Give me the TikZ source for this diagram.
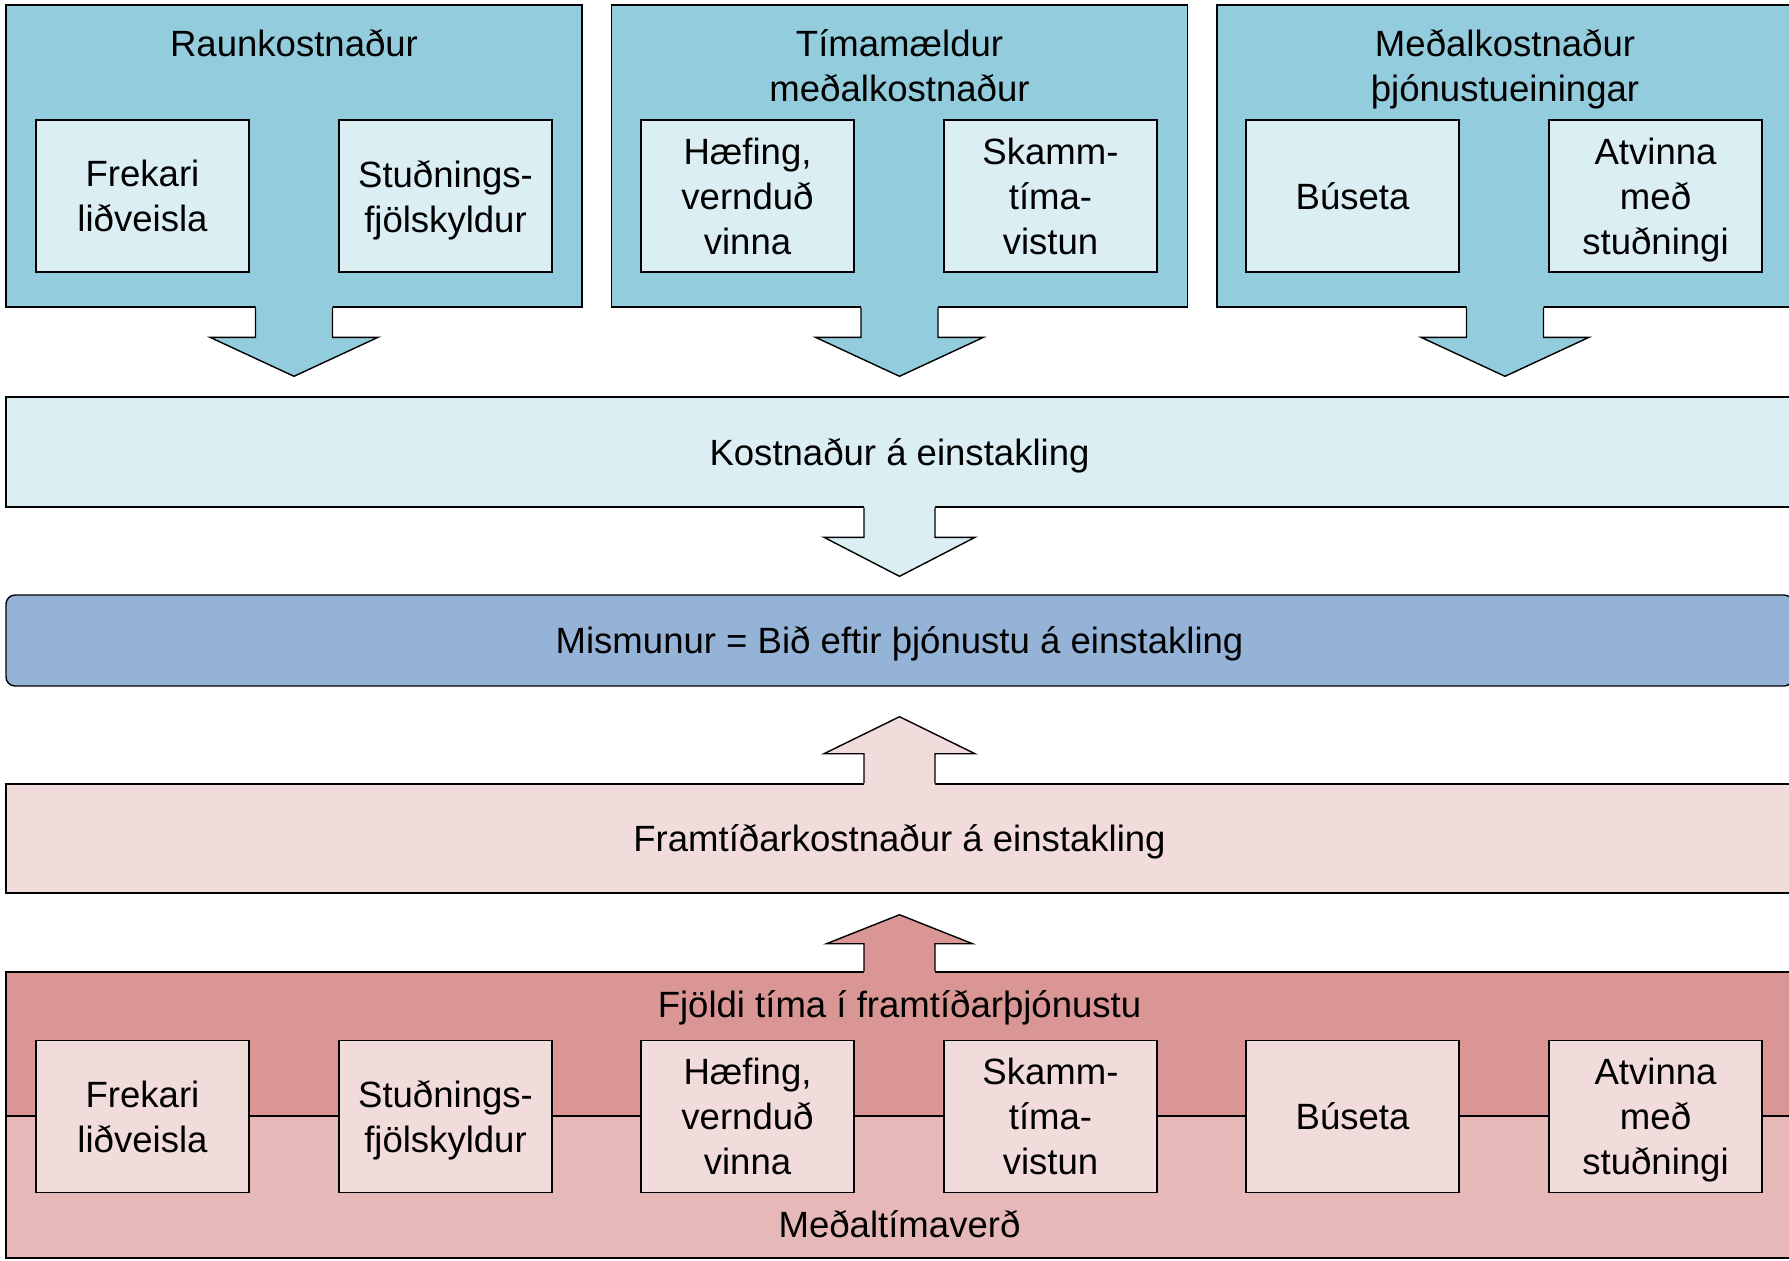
\documentclass[tikz,border=0pt]{standalone}
\usepackage{fontspec}
\setmainfont{Liberation Sans}
\usepackage{tikz}
\usetikzlibrary{calc}

\definecolor{aqua}{HTML}{93CDDD}
\definecolor{aqualight}{HTML}{DBEEF4}
\definecolor{steel}{HTML}{95B3D7}
\definecolor{rose}{HTML}{D99694}
\definecolor{rosemid}{HTML}{E6B9B8}
\definecolor{roselight}{HTML}{F2DCDB}

\tikzset{
x=0.1mm, y=-0.1mm, % one unit is one pixel of the sketch, y runs down
node distance=60.55mm, % distance between the three top groups
every node/.style={font=\fontsize{10.4}{12.8}\selectfont, inner sep=0pt},
group/.style={draw, fill=aqua, minimum width=57.6mm, minimum height=30.2mm}, % top cost groups
item/.style={draw, fill=aqualight, minimum width=21.3mm, minimum height=15.2mm, align=center, text depth=0pt}, % service boxes
heading/.style={anchor=base, align=center}, % titles, placed by the baseline of their last line
band/.style={draw, minimum width=178.7mm, align=center, text height=2.65mm, text depth=0pt}, % wide rows
}

% block arrow: foot, tip, half shaft, half head, head length (signed), fill
\newcommand{\blockarrow}[6]{%
  \coordinate (foot) at ($(#1)!-0.04!(#2)$);
  \fill[#6] ($(foot)+(-#3,0)$) -- ($(#2)+(-#3,#5)$) -- ($(#2)+(-#4,#5)$) -- (#2)
     -- ($(#2)+(#4,#5)$) -- ($(#2)+(#3,#5)$) -- ($(foot)+(#3,0)$) -- cycle;
  \draw ($(#1)+(-#3,0)$) -- ($(#2)+(-#3,#5)$) -- ($(#2)+(-#4,#5)$) -- (#2)
     -- ($(#2)+(#4,#5)$) -- ($(#2)+(#3,#5)$) -- ($(#1)+(#3,0)$);
}

\begin{document}
\begin{tikzpicture}
    \useasboundingbox (0,0) rectangle (1789,1260);

    % top groups
    \node[group] (raun) at (294,156) {};
    \node[group, right of=raun] (timi) {};
    \node[group, right of=timi] (medal) {};

    \node[heading] (raunhead) at ($(raun.north)+(0,51.7)$) {Raunkostnaður};
    \node[heading] (timihead) at ($(timi.north)+(0,96.7)$) {Tímamældur\\meðalkostnaður};
    \node[heading] (medalhead) at ($(medal.north)+(0,96.7)$) {Meðalkostnaður\\þjónustueiningar};

    \node[item] (frek1) at (142.5,196) {Frekari\\liðveisla};
    \node[item] (stud1) at (445.5,196) {Stuðnings-\\fjölskyldur};
    \node[item] (haef1) at (747.5,196) {Hæfing,\\vernduð\\vinna};
    \node[item] (skam1) at (1050.5,196) {Skamm-\\tíma-\\vistun};
    \node[item] (buse1) at (1352.5,196) {Búseta};
    \node[item] (atvi1) at (1655.5,196) {Atvinna\\með\\stuðningi};

    % rows
    \node[band, fill=aqualight, minimum height=11mm] (kost) at (899.5,452) {Kostnaður á einstakling};
    \node[band, fill=steel, rounded corners=0.9mm, minimum height=9.1mm] (mism) at (899.5,640.5)
        {Mismunur = Bið eftir þjónustu á einstakling};
    \node[band, fill=roselight, minimum height=10.9mm] (framt) at (899.5,838.5) {Framtíðarkostnaður á einstakling};
    \node[band, fill=rose, minimum height=14.4mm] (fjoldi) at (899.5,1044) {};
    \node[band, fill=rosemid, minimum height=14.2mm] (verd) at (899.5,1187) {};

    \node[anchor=base] (fjolditext) at (899.5,1017) {Fjöldi tíma í framtíðarþjónustu};
    \node[anchor=base] (verdtext) at (899.5,1237) {Meðaltímaverð};

    \node[item, fill=roselight] (frek2) at (142.5,1116.5) {Frekari\\liðveisla};
    \node[item, fill=roselight] (stud2) at (445.5,1116.5) {Stuðnings-\\fjölskyldur};
    \node[item, fill=roselight] (haef2) at (747.5,1116.5) {Hæfing,\\vernduð\\vinna};
    \node[item, fill=roselight] (skam2) at (1050.5,1116.5) {Skamm-\\tíma-\\vistun};
    \node[item, fill=roselight] (buse2) at (1352.5,1116.5) {Búseta};
    \node[item, fill=roselight] (atvi2) at (1655.5,1116.5) {Atvinna\\með\\stuðningi};

    % arrows
    \coordinate (tipraun) at ($(raun.south |- kost.north)+(0,-20)$);
    \coordinate (tiptimi) at ($(timi.south |- kost.north)+(0,-20)$);
    \coordinate (tipmedal) at ($(medal.south |- kost.north)+(0,-20)$);
    \coordinate (tipkost) at ($(mism.north)+(0,-18)$);
    \coordinate (tipframt) at ($(mism.south)+(0,30)$);
    \coordinate (tipfjoldi) at ($(framt.south)+(0,21)$);

    \blockarrow{raun.south}{tipraun}{38.5}{84}{-39}{aqua}
    \blockarrow{timi.south}{tiptimi}{38.5}{84}{-39}{aqua}
    \blockarrow{medal.south}{tipmedal}{38.5}{84}{-39}{aqua}
    \blockarrow{kost.south}{tipkost}{35.5}{75.5}{-39}{aqualight}
    \blockarrow{framt.north}{tipframt}{35.5}{75.5}{37}{roselight}
    \blockarrow{fjoldi.north}{tipfjoldi}{35.5}{73}{29}{rose}
\end{tikzpicture}
\end{document}
